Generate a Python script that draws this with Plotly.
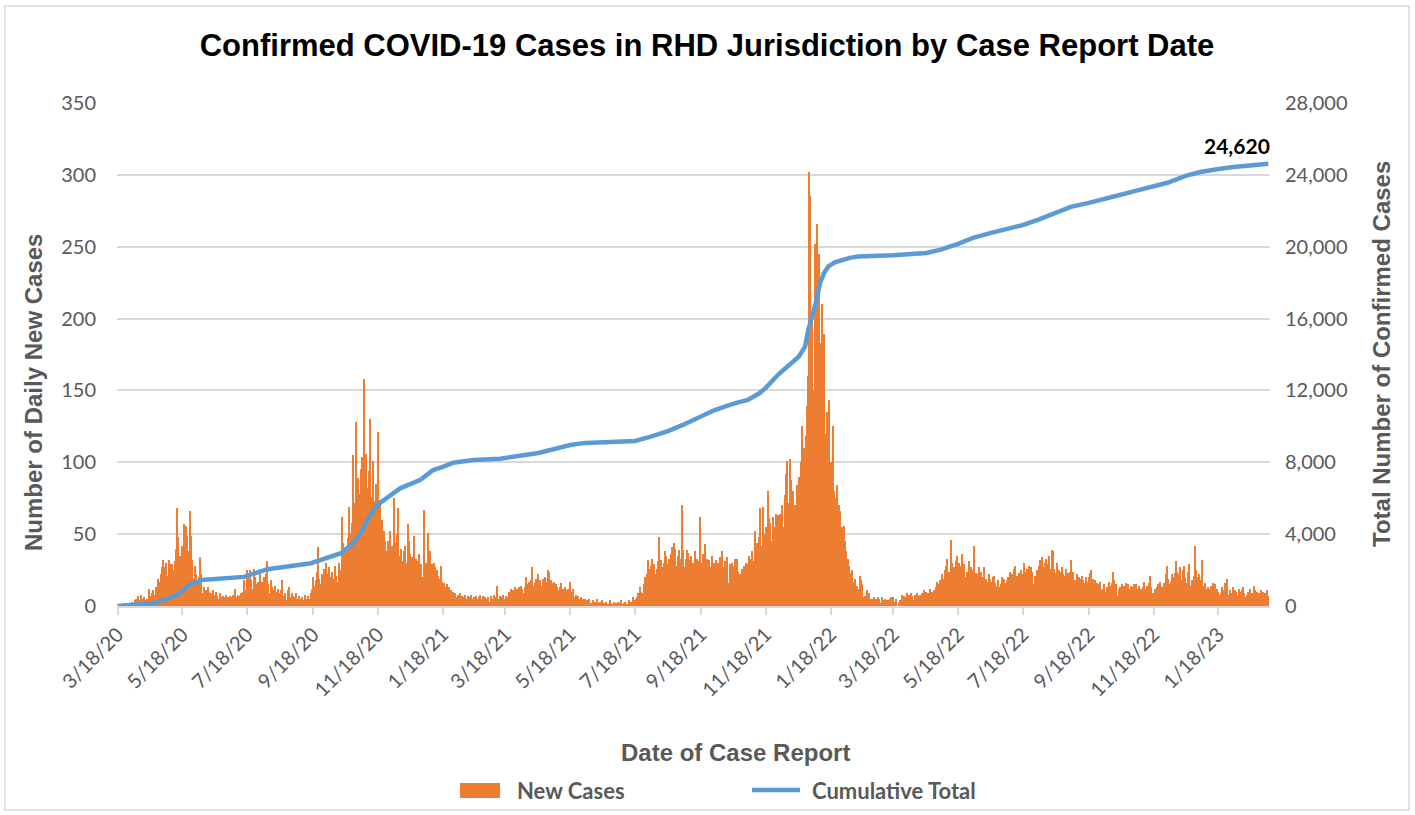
import pandas as pd
import plotly.graph_objects as go

# daily new cases by report date, starting 3/18/20
mar20 = [0, 0, 1, 0, 1, 0, 2, 1, 0, 1, 2, 1, 0, 2]
apr20 = [3, 2, 4, 5, 3, 7, 4, 2, 8, 5, 3, 6, 4, 2, 5, 3, 12, 7, 9, 11, 6, 8, 13, 9, 19, 17, 14, 22, 27, 32]
may20 = [27, 24, 30, 21, 32, 29, 26, 29, 25, 18, 31, 40, 68, 48, 26, 35, 30, 42, 22, 57, 56, 49, 38, 30, 66, 49, 32, 19, 18, 28, 22]
jun20 = [15, 12, 20, 34, 22, 9, 13, 8, 11, 7, 13, 10, 6, 9, 5, 11, 8, 6, 10, 7, 5, 9, 6, 4, 7, 5, 6, 8, 4, 6]
jul20 = [5, 7, 4, 6, 8, 3, 12, 6, 8, 7, 5, 9, 6, 10, 18, 11, 9, 25, 21, 14, 25, 18, 12, 26, 20, 15, 13, 17, 12, 22, 16]
aug20 = [17, 13, 20, 12, 22, 31, 15, 9, 18, 13, 11, 6, 14, 10, 8, 12, 6, 9, 11, 18, 7, 5, 9, 4, 11, 13, 6, 5, 9, 7, 4]
sep20 = [6, 9, 5, 4, 7, 5, 3, 6, 4, 8, 5, 3, 7, 5, 4, 9, 12, 20, 14, 10, 18, 24, 41, 19, 15, 22, 17, 26, 20, 30]
oct20 = [22, 18, 27, 15, 20, 24, 19, 12, 28, 21, 17, 30, 25, 10, 62, 44, 35, 41, 38, 33, 47, 69, 51, 40, 58, 105, 72, 128, 89, 89, 78]
nov20 = [66, 95, 104, 88, 158, 104, 106, 82, 70, 94, 130, 76, 101, 63, 73, 85, 60, 121, 74, 72, 55, 60, 48, 52, 45, 38, 20, 45, 52, 40]
dec20 = [42, 35, 75, 27, 44, 50, 68, 33, 35, 40, 31, 29, 38, 42, 30, 57, 45, 36, 28, 34, 22, 49, 22, 33, 27, 31, 36, 25, 29, 20, 67]
jan21 = [22, 30, 18, 51, 38, 38, 22, 29, 24, 30, 27, 17, 25, 21, 19, 28, 17, 14, 16, 12, 13, 15, 10, 13, 9, 11, 8, 10, 7, 9, 6]
feb21 = [8, 6, 9, 5, 7, 4, 6, 8, 5, 3, 7, 6, 4, 8, 5, 6, 3, 7, 5, 4, 6, 8, 3, 5, 7, 4, 6, 5]
mar21 = [4, 6, 3, 7, 5, 2, 8, 4, 6, 14, 5, 3, 7, 4, 6, 8, 3, 5, 7, 6, 10, 9, 12, 8, 11, 9, 13, 10, 12, 11, 13]
apr21 = [11, 14, 12, 9, 13, 20, 15, 12, 17, 11, 18, 27, 13, 14, 16, 19, 12, 22, 16, 18, 14, 19, 13, 20, 17, 15, 25, 24, 18, 18]
may21 = [16, 12, 17, 14, 15, 13, 11, 13, 16, 10, 12, 9, 13, 11, 8, 12, 7, 17, 7, 10, 12, 6, 8, 5, 7, 5, 4, 6, 5, 3, 5]
jun21 = [5, 2, 4, 3, 5, 1, 2, 4, 0, 3, 1, 5, 2, 0, 3, 1, 4, 0, 2, 1, 3, 0, 1, 4, 2, 0, 1, 3, 0, 2]
jul21 = [1, 3, 0, 2, 4, 1, 0, 2, 3, 1, 0, 4, 2, 3, 3, 6, 2, 4, 5, 6, 9, 7, 13, 10, 9, 15, 20, 18, 22, 32, 26]
aug21 = [24, 28, 33, 13, 29, 22, 18, 26, 31, 48, 32, 12, 27, 30, 38, 35, 14, 29, 33, 22, 36, 41, 17, 44, 40, 28, 35, 39, 16, 33, 70]
sep21 = [39, 27, 17, 33, 39, 37, 18, 32, 35, 24, 30, 38, 19, 33, 26, 31, 62, 21, 30, 36, 28, 43, 15, 33, 29, 32, 27, 35, 22, 30]
oct21 = [28, 32, 15, 30, 27, 34, 24, 38, 20, 27, 31, 22, 34, 16, 29, 23, 30, 25, 28, 33, 19, 33, 24, 17, 22, 20, 26, 25, 28, 30, 24]
nov21 = [29, 35, 26, 33, 38, 31, 27, 52, 36, 44, 30, 48, 68, 42, 69, 50, 37, 55, 40, 80, 61, 58, 45, 40, 62, 55, 49, 64, 57, 63]
dec21 = [64, 48, 70, 55, 8, 77, 92, 101, 60, 72, 102, 88, 65, 80, 55, 70, 84, 62, 90, 75, 100, 125, 99, 110, 60, 118, 139, 160, 302, 285, 103]
jan22 = [200, 150, 252, 175, 266, 190, 245, 183, 160, 210, 140, 189, 110, 120, 135, 95, 143, 100, 90, 125, 80, 75, 62, 84, 58, 70, 66, 48, 55, 40, 56]
feb22 = [45, 38, 33, 28, 20, 23, 25, 17, 15, 19, 12, 14, 10, 12, 21, 18, 15, 6, 7, 6, 11, 8, 9, 5, 3, 5, 4, 6]
mar22 = [4, 5, 3, 6, 5, 2, 6, 4, 3, 5, 4, 2, 4, 3, 5, 6, 4, 6, 1, 3, 5, 0, 2, 4, 3, 8, 5, 7, 3, 6, 9]
apr22 = [6, 8, 5, 9, 7, 4, 8, 6, 9, 5, 7, 8, 6, 9, 7, 11, 8, 10, 6, 9, 7, 12, 10, 8, 11, 9, 13, 17, 12, 15]
may22 = [18, 14, 22, 16, 19, 25, 28, 33, 24, 21, 46, 30, 19, 27, 22, 31, 35, 26, 30, 23, 28, 36, 25, 29, 20, 24, 15, 31, 22, 27, 18]
jun22 = [25, 42, 20, 23, 17, 22, 27, 18, 24, 20, 27, 15, 19, 13, 17, 22, 19, 14, 17, 20, 21, 16, 12, 14, 18, 13, 15, 20, 16, 19]
jul22 = [16, 14, 18, 20, 15, 24, 19, 22, 17, 26, 28, 21, 17, 23, 19, 25, 20, 22, 30, 24, 19, 26, 22, 28, 20, 27, 24, 15, 21, 18, 25]
aug22 = [22, 28, 32, 25, 34, 27, 24, 30, 33, 22, 29, 35, 26, 39, 38, 26, 20, 23, 30, 16, 25, 24, 19, 27, 22, 17, 21, 26, 23, 18, 24]
sep22 = [32, 20, 24, 13, 18, 17, 22, 15, 20, 19, 14, 21, 18, 16, 20, 14, 17, 20, 23, 25, 16, 19, 14, 18, 12, 16, 15, 13, 17, 11]
oct22 = [12, 15, 10, 9, 13, 11, 17, 14, 12, 16, 24, 18, 11, 15, 7, 12, 13, 10, 15, 12, 14, 11, 16, 13, 15, 12, 10, 14, 11, 13, 15]
nov22 = [15, 12, 11, 14, 10, 12, 9, 13, 17, 12, 10, 14, 11, 16, 21, 13, 9, 7, 12, 10, 13, 15, 11, 17, 14, 12, 13, 16, 11, 22]
dec22 = [28, 19, 15, 17, 22, 20, 18, 23, 31, 24, 19, 22, 27, 18, 17, 25, 28, 20, 16, 24, 29, 14, 12, 18, 15, 21, 42, 25, 20, 17, 22]
jan23 = [15, 18, 32, 14, 16, 12, 11, 13, 9, 12, 14, 10, 16, 11, 15, 6, 12, 10, 8, 9, 13, 10, 11, 16, 12, 19, 5, 8, 11, 5, 9]
feb23 = [13, 9, 11, 10, 7, 12, 10, 8, 11, 13, 9, 6, 3, 8, 10, 7, 12, 5, 9, 14, 11, 8, 10, 6, 9, 7, 11, 8]
mar23 = [10, 6, 9, 5, 11, 7]

new_cases = (mar20 + apr20 + may20 + jun20 + jul20 + aug20 + sep20 + oct20 + nov20 + dec20
             + jan21 + feb21 + mar21 + apr21 + may21 + jun21 + jul21 + aug21 + sep21 + oct21 + nov21 + dec21
             + jan22 + feb22 + mar22 + apr22 + may22 + jun22 + jul22 + aug22 + sep22 + oct22 + nov22 + dec22
             + jan23 + feb23 + mar23)
report_dates = pd.date_range("2020-03-18", periods=len(new_cases), freq="D")

# cumulative total
cum_dates = ["2020-03-18", "2020-04-21", "2020-05-13", "2020-05-18", "2020-05-25", "2020-06-01", "2020-06-05",
             "2020-07-15", "2020-08-06", "2020-09-16", "2020-09-25", "2020-10-08", "2020-10-15", "2020-10-24",
             "2020-11-01", "2020-11-08", "2020-11-17", "2020-11-26", "2020-12-09", "2020-12-28", "2021-01-09",
             "2021-01-18", "2021-01-28", "2021-02-16", "2021-03-13", "2021-04-18", "2021-05-18", "2021-06-01",
             "2021-07-18", "2021-08-01", "2021-08-18", "2021-09-01", "2021-09-18", "2021-10-01", "2021-10-18",
             "2021-11-01", "2021-11-12", "2021-11-18", "2021-11-30", "2021-12-19", "2021-12-25", "2021-12-28",
             "2022-01-04", "2022-01-08", "2022-01-12", "2022-01-16", "2022-01-22", "2022-01-29", "2022-02-05",
             "2022-02-13", "2022-03-04", "2022-03-18",
             "2022-04-18", "2022-05-01", "2022-05-18", "2022-06-01", "2022-06-18", "2022-07-01", "2022-07-18",
             "2022-08-01", "2022-08-18", "2022-09-01", "2022-09-18", "2022-10-01", "2022-10-18", "2022-11-01",
             "2022-11-18", "2022-12-01", "2022-12-18", "2023-01-01", "2023-01-18", "2023-02-01", "2023-03-06"]
cum_totals = [0, 150, 610, 890, 1200, 1340, 1450,
              1620, 2050, 2380, 2560, 2840, 2950, 3400,
              3950, 4790, 5600, 6000, 6550, 7020, 7570,
              7740, 7980, 8130, 8200, 8520, 8960, 9080,
              9190, 9410, 9740, 10080, 10520, 10910, 11250,
              11470, 11840, 12140, 12900, 13880, 14440, 15370,
              16850, 17970, 18550, 18900, 19130, 19270, 19380,
              19450, 19490, 19520,
              19650, 19820, 20160, 20490, 20770, 20940, 21210,
              21490, 21880, 22220, 22440, 22660, 22890, 23110,
              23330, 23560, 23940, 24160, 24330, 24440, 24620]

tick_dates = ["2020-03-18", "2020-05-18", "2020-07-18", "2020-09-18", "2020-11-18", "2021-01-18",
              "2021-03-18", "2021-05-18", "2021-07-18", "2021-09-18", "2021-11-18", "2022-01-18",
              "2022-03-18", "2022-05-18", "2022-07-18", "2022-09-18", "2022-11-18", "2023-01-18"]
tick_text = ["3/18/20", "5/18/20", "7/18/20", "9/18/20", "11/18/20", "1/18/21",
             "3/18/21", "5/18/21", "7/18/21", "9/18/21", "11/18/21", "1/18/22",
             "3/18/22", "5/18/22", "7/18/22", "9/18/22", "11/18/22", "1/18/23"]

ORANGE = "#ED7D31"
BLUE = "#5B9BD5"
GREY = "#595959"
GRID = "#D9D9D9"
SANS = "Lato, Open Sans, sans-serif"
BOLD = "Liberation Sans, Arial, sans-serif"
TICK_FONT = dict(family=SANS, size=20, color=GREY)

# plot area in pixels: left 117, right 1270, top 103, bottom 606
W, H = 1415, 815
L, R, T, B = 117, 1270, 103, 606


def px(x):
    return (x - L) / (R - L)


def py(y):
    return (B - y) / (B - T)


fig = go.Figure()

fig.add_trace(go.Bar(
    x=report_dates, y=new_cases,
    name="New Cases",
    marker=dict(color=ORANGE, line=dict(width=0)),
    showlegend=False,
))

fig.add_trace(go.Scatter(
    x=cum_dates, y=cum_totals,
    mode="lines",
    name="Cumulative Total",
    line=dict(color=BLUE, width=4.5),
    yaxis="y2",
    showlegend=False,
))

fig.update_layout(
    width=W, height=H,
    margin=dict(l=L, r=W - R, t=T, b=H - B, autoexpand=False),
    paper_bgcolor="white",
    plot_bgcolor="white",
    bargap=0,
    showlegend=False,
    title=dict(
        text="<b>Confirmed COVID-19 Cases in RHD Jurisdiction by Case Report Date</b>",
        x=707 / W, xref="container", xanchor="center",
        y=1 - 45 / H, yref="container", yanchor="middle",
        font=dict(family=BOLD, size=31, color="black"),
    ),
    xaxis=dict(
        type="date",
        range=["2020-03-17 12:00", "2023-03-07 12:00"],
        tickmode="array", tickvals=tick_dates, ticktext=tick_text,
        tickangle=-45, tickfont=TICK_FONT,
        ticks="outside", ticklen=7, tickcolor=GRID, tickwidth=2,
        showgrid=False, showline=True, linecolor=GRID, linewidth=2,
        zeroline=False, automargin=False,
    ),
    yaxis=dict(
        range=[0, 350], dtick=50,
        tickfont=TICK_FONT,
        showgrid=True, gridcolor=GRID, gridwidth=1.5,
        zeroline=False, showline=False,
        ticks="outside", ticklen=16, tickcolor="rgba(0,0,0,0)",
        automargin=False,
    ),
    yaxis2=dict(
        range=[0, 28000], dtick=4000, tickformat=",",
        overlaying="y", side="right",
        tickfont=TICK_FONT,
        showgrid=False, zeroline=False, showline=False,
        ticks="outside", ticklen=10, tickcolor="rgba(0,0,0,0)",
        automargin=False,
    ),
    shapes=[
        # chart border
        dict(type="rect", xref="paper", yref="paper",
             x0=px(5), x1=px(1409), y0=py(810), y1=py(6),
             line=dict(color=GRID, width=1.5), layer="below"),
        # legend swatches
        dict(type="rect", xref="paper", yref="paper",
             x0=px(460), x1=px(500), y0=py(798), y1=py(783),
             fillcolor=ORANGE, line=dict(width=0)),
        dict(type="line", xref="paper", yref="paper",
             x0=px(752), x1=px(800), y0=py(790), y1=py(790),
             line=dict(color=BLUE, width=4.5)),
    ],
    annotations=[
        dict(text="<b>Number of Daily New Cases</b>", xref="paper", yref="paper",
             x=px(33), y=py(393), xanchor="center", yanchor="middle",
             textangle=-90, showarrow=False,
             font=dict(family=BOLD, size=24, color=GREY)),
        dict(text="<b>Total Number of Confirmed Cases</b>", xref="paper", yref="paper",
             x=px(1381), y=py(354), xanchor="center", yanchor="middle",
             textangle=-90, showarrow=False,
             font=dict(family=BOLD, size=24, color=GREY)),
        dict(text="<b>Date of Case Report</b>", xref="paper", yref="paper",
             x=px(735), y=py(752), xanchor="center", yanchor="middle", showarrow=False,
             font=dict(family=BOLD, size=24, color=GREY)),
        dict(text="<b>New Cases</b>", xref="paper", yref="paper",
             x=px(515), y=py(790), xanchor="left", yanchor="middle", showarrow=False,
             font=dict(family=SANS, size=22, color=GREY)),
        dict(text="<b>Cumulative Total</b>", xref="paper", yref="paper",
             x=px(810), y=py(790), xanchor="left", yanchor="middle", showarrow=False,
             font=dict(family=SANS, size=22, color=GREY)),
        dict(text="<b>24,620</b>", x=cum_dates[-1], y=cum_totals[-1], xref="x", yref="y2",
             xanchor="right", yanchor="bottom", yshift=4, xshift=4, showarrow=False,
             font=dict(family=SANS, size=21, color="black")),
    ],
)

# the page body has a default 8px margin; drop it so the figure sits at the window origin
fig.write_html("out.html", config={"displayModeBar": False},
               post_script="document.body.style.margin = '0';")
